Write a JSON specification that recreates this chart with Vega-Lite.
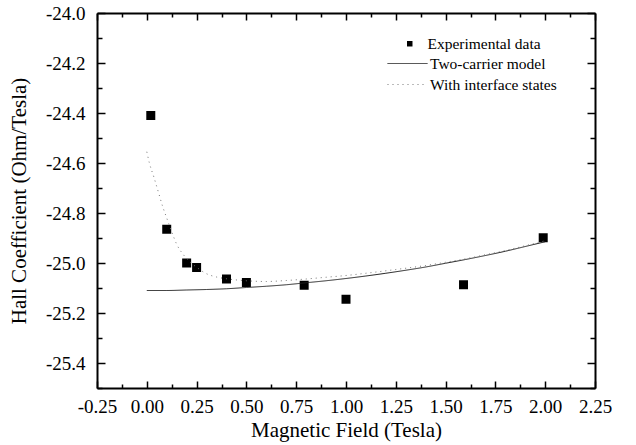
{
  "$schema": "https://vega.github.io/schema/vega-lite/v6.json",
  "width": 498,
  "height": 375,
  "autosize": {"type": "none"},
  "padding": {"left": 97, "top": 13, "right": 41, "bottom": 57},
  "background": "white",
  "config": {
    "view": {"stroke": null},
    "font": "Liberation Serif",
    "axis": {
      "domainColor": "black",
      "domainWidth": 2,
      "tickColor": "black",
      "tickWidth": 1.5,
      "grid": false,
      "labelFont": "Liberation Serif",
      "labelFontSize": 19,
      "labelColor": "black",
      "titleFont": "Liberation Serif",
      "titleFontSize": 21,
      "titleFontWeight": "normal",
      "titleColor": "black",
      "labelFlush": false,
      "labelOverlap": false,
      "labelBound": false
    }
  },
  "datasets": {
    "exp": [
      {"B": 0.02, "R": -24.41, "series": "Experimental data"},
      {"B": 0.1, "R": -24.865, "series": "Experimental data"},
      {"B": 0.2, "R": -25.0, "series": "Experimental data"},
      {"B": 0.25, "R": -25.018, "series": "Experimental data"},
      {"B": 0.4, "R": -25.064, "series": "Experimental data"},
      {"B": 0.5, "R": -25.078, "series": "Experimental data"},
      {"B": 0.79, "R": -25.089, "series": "Experimental data"},
      {"B": 1.0, "R": -25.145, "series": "Experimental data"},
      {"B": 1.59, "R": -25.087, "series": "Experimental data"},
      {"B": 1.99, "R": -24.899, "series": "Experimental data"}
    ],
    "model": [
      {"B": 0.0, "R": -25.11, "series": "Two-carrier model"},
      {"B": 0.1, "R": -25.11, "series": "Two-carrier model"},
      {"B": 0.2, "R": -25.108, "series": "Two-carrier model"},
      {"B": 0.3, "R": -25.106, "series": "Two-carrier model"},
      {"B": 0.4, "R": -25.103, "series": "Two-carrier model"},
      {"B": 0.5, "R": -25.098, "series": "Two-carrier model"},
      {"B": 0.6, "R": -25.093, "series": "Two-carrier model"},
      {"B": 0.7, "R": -25.087, "series": "Two-carrier model"},
      {"B": 0.8, "R": -25.079, "series": "Two-carrier model"},
      {"B": 0.9, "R": -25.071, "series": "Two-carrier model"},
      {"B": 1.0, "R": -25.062, "series": "Two-carrier model"},
      {"B": 1.1, "R": -25.052, "series": "Two-carrier model"},
      {"B": 1.2, "R": -25.041, "series": "Two-carrier model"},
      {"B": 1.3, "R": -25.029, "series": "Two-carrier model"},
      {"B": 1.4, "R": -25.016, "series": "Two-carrier model"},
      {"B": 1.5, "R": -25.001, "series": "Two-carrier model"},
      {"B": 1.6, "R": -24.986, "series": "Two-carrier model"},
      {"B": 1.7, "R": -24.97, "series": "Two-carrier model"},
      {"B": 1.8, "R": -24.953, "series": "Two-carrier model"},
      {"B": 1.9, "R": -24.934, "series": "Two-carrier model"},
      {"B": 2.0, "R": -24.915, "series": "Two-carrier model"}
    ],
    "model2": [
      {"B": 0.0, "R": -24.555, "series": "With interface states"},
      {"B": 0.013, "R": -24.6, "series": "With interface states"},
      {"B": 0.035, "R": -24.655, "series": "With interface states"},
      {"B": 0.058, "R": -24.716, "series": "With interface states"},
      {"B": 0.08, "R": -24.775, "series": "With interface states"},
      {"B": 0.1, "R": -24.82, "series": "With interface states"},
      {"B": 0.125, "R": -24.875, "series": "With interface states"},
      {"B": 0.15, "R": -24.925, "series": "With interface states"},
      {"B": 0.185, "R": -24.968, "series": "With interface states"},
      {"B": 0.22, "R": -24.998, "series": "With interface states"},
      {"B": 0.25, "R": -25.017, "series": "With interface states"},
      {"B": 0.3, "R": -25.043, "series": "With interface states"},
      {"B": 0.35, "R": -25.056, "series": "With interface states"},
      {"B": 0.4, "R": -25.063, "series": "With interface states"},
      {"B": 0.5, "R": -25.071, "series": "With interface states"},
      {"B": 0.6, "R": -25.074, "series": "With interface states"},
      {"B": 0.7, "R": -25.07, "series": "With interface states"},
      {"B": 0.8, "R": -25.064, "series": "With interface states"},
      {"B": 0.9, "R": -25.057, "series": "With interface states"},
      {"B": 1.0, "R": -25.05, "series": "With interface states"},
      {"B": 1.1, "R": -25.041, "series": "With interface states"},
      {"B": 1.25, "R": -25.026, "series": "With interface states"},
      {"B": 1.4, "R": -25.01, "series": "With interface states"},
      {"B": 1.5, "R": -24.997, "series": "With interface states"},
      {"B": 1.6, "R": -24.983, "series": "With interface states"},
      {"B": 1.7, "R": -24.967, "series": "With interface states"},
      {"B": 1.8, "R": -24.95, "series": "With interface states"},
      {"B": 1.9, "R": -24.931, "series": "With interface states"},
      {"B": 2.0, "R": -24.911, "series": "With interface states"}
    ]
  },
  "layer": [
    {
      "data": {"name": "exp"},
      "mark": {"type": "point", "filled": true, "opacity": 1, "size": 81, "color": "black"},
      "encoding": {
        "x": {
          "field": "B", "type": "quantitative",
          "title": "Magnetic Field (Tesla)",
          "scale": {"domain": [-0.25, 2.25], "nice": false, "zero": false},
          "axis": {
            "orient": "bottom",
            "values": [-0.25,-0.125,0,0.125,0.25,0.375,0.5,0.625,0.75,0.875,1,1.125,1.25,1.375,1.5,1.625,1.75,1.875,2,2.125,2.25],
            "tickSize": {"condition": {"test": "abs(datum.value*4 - round(datum.value*4)) < 0.01", "value": -7}, "value": -4},
            "labelExpr": "abs(datum.value*4 - round(datum.value*4)) < 0.01 ? replace(format(datum.value, '.2f'), '\u2212', '-') : ''",
            "labelPadding": 16,
            "titlePadding": 0
          }
        },
        "y": {
          "field": "R", "type": "quantitative",
          "title": "Hall Coefficient (Ohm/Tesla)",
          "scale": {"domain": [-25.5, -24.0], "nice": false, "zero": false},
          "axis": {
            "orient": "left",
            "values": [-25.5,-25.4,-25.3,-25.2,-25.1,-25.0,-24.9,-24.8,-24.7,-24.6,-24.5,-24.4,-24.3,-24.2,-24.1,-24.0],
            "tickSize": {"condition": {"test": "abs(datum.value*5 - round(datum.value*5)) < 0.01", "value": -8}, "value": -5},
            "labelExpr": "abs(datum.value*5 - round(datum.value*5)) < 0.01 ? replace(format(datum.value, '.1f'), '\u2212', '-') : ''",
            "labelPadding": 20,
            "titlePadding": 16
          }
        },
        "shape": {
          "field": "series", "type": "nominal",
          "scale": {"domain": ["Experimental data"], "range": ["square"]},
          "legend": {
            "title": null, "orient": "none", "legendX": 305, "legendY": 23, "padding": 0,
            "symbolSize": 30, "symbolFillColor": "black", "symbolStrokeWidth": 0,
            "labelFont": "Liberation Serif", "labelFontSize": 15.5, "labelColor": "black", "labelOffset": 10
          }
        }
      }
    },
    {
      "data": {"name": "model"},
      "mark": {"type": "line", "strokeWidth": 1, "color": "#222222", "interpolate": "monotone"},
      "encoding": {
        "x": {
          "field": "B", "type": "quantitative",
          "scale": {"domain": [-0.25, 2.25], "nice": false, "zero": false},
          "axis": {
            "orient": "top", "title": null, "labels": false,
            "values": [-0.25,-0.125,0,0.125,0.25,0.375,0.5,0.625,0.75,0.875,1,1.125,1.25,1.375,1.5,1.625,1.75,1.875,2,2.125,2.25],
            "tickSize": {"condition": {"test": "abs(datum.value*4 - round(datum.value*4)) < 0.01", "value": -7}, "value": -4}
          }
        },
        "y": {
          "field": "R", "type": "quantitative",
          "scale": {"domain": [-25.5, -24.0], "nice": false, "zero": false},
          "axis": {
            "orient": "right", "title": null, "labels": false,
            "values": [-25.5,-25.4,-25.3,-25.2,-25.1,-25.0,-24.9,-24.8,-24.7,-24.6,-24.5,-24.4,-24.3,-24.2,-24.1,-24.0],
            "tickSize": {"condition": {"test": "abs(datum.value*5 - round(datum.value*5)) < 0.01", "value": -8}, "value": -5}
          }
        },
        "strokeDash": {
          "field": "series", "type": "nominal",
          "scale": {"domain": ["Two-carrier model"], "range": [[1, 0]]},
          "legend": {
            "title": null, "orient": "none", "legendX": 290, "legendY": 30, "padding": 0,
            "symbolSize": 1600, "symbolStrokeWidth": 1,
            "labelFont": "Liberation Serif", "labelFontSize": 15.5, "labelColor": "black", "labelOffset": 2
          }
        }
      }
    },
    {
      "data": {"name": "model2"},
      "mark": {"type": "line", "strokeWidth": 1, "color": "#777777", "interpolate": "monotone"},
      "encoding": {
        "x": {"field": "B", "type": "quantitative", "scale": {"domain": [-0.25, 2.25], "nice": false, "zero": false}, "axis": null},
        "y": {"field": "R", "type": "quantitative", "scale": {"domain": [-25.5, -24.0], "nice": false, "zero": false}, "axis": null},
        "strokeDash": {
          "field": "series", "type": "nominal",
          "scale": {"domain": ["With interface states"], "range": [[1, 4]]},
          "legend": {
            "title": null, "orient": "none", "legendX": 290, "legendY": 51, "padding": 0,
            "symbolSize": 1600, "symbolStrokeWidth": 1,
            "labelFont": "Liberation Serif", "labelFontSize": 15.5, "labelColor": "black", "labelOffset": 2
          }
        }
      }
    }
  ],
  "resolve": {"scale": {"x": "independent", "y": "independent", "strokeDash": "independent"}}
}
